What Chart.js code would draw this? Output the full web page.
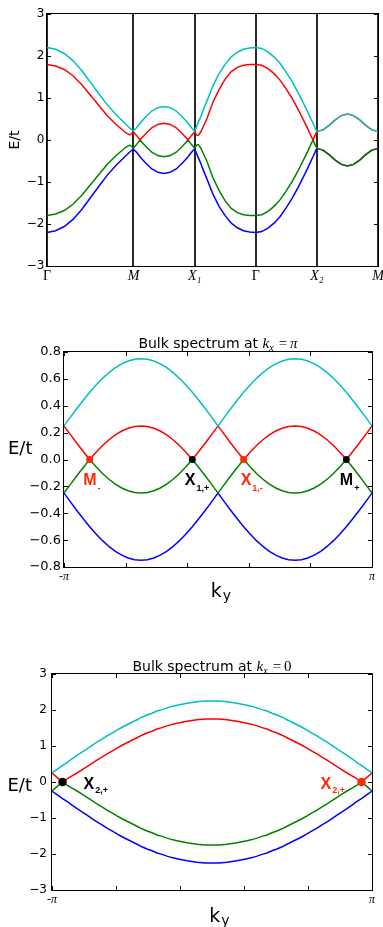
<!DOCTYPE html>
<html>
<head>
<meta charset="utf-8">
<script src="https://cdn.jsdelivr.net/npm/chart.js@4.4.1/dist/chart.umd.min.js"></script>
<style>
  body { margin: 0; background: #fff; width: 383px; height: 927px; position: relative; overflow: hidden; }
  canvas { position: absolute; left: 0; }
</style>
</head>
<body>
<canvas id="c1" width="383" height="300" style="top:0;width:383px;height:300px"></canvas>
<canvas id="c2" width="383" height="320" style="top:300px;width:383px;height:320px"></canvas>
<canvas id="c3" width="383" height="307" style="top:620px;width:383px;height:307px"></canvas>
<script>
// ---------- panel 1: bands along the path G-M-X1-G-X2-M ----------
const pathNodes = [0, 4.443, 7.584, 10.726, 13.868, 17.009];
const pathLabels = ['Γ', 'M', 'X₁', 'Γ', 'X₂', 'M'];
const kPath = [
  0, 0.444, 0.889, 1.333, 1.777, 2.222, 2.666, 3.110, 3.554, 3.777, 3.999, 4.132, 4.265, 4.443,
  4.600, 4.782, 4.914, 5.071, 5.385, 5.700, 6.014, 6.328, 6.642, 6.956, 7.113, 7.245, 7.427, 7.584,
  7.678, 7.773, 7.898, 7.992, 8.212, 8.527, 8.841, 9.155, 9.469, 9.783, 10.097, 10.412, 10.726,
  11.040, 11.354, 11.668, 11.983, 12.297, 12.611, 12.925, 13.239, 13.396, 13.553, 13.670, 13.773, 13.868,
  14.182, 14.496, 14.810, 15.125, 15.439, 15.753, 16.067, 16.381, 16.695, 17.009
];
const cyan1 = [
  2.20, 2.16, 2.06, 1.89, 1.66, 1.38, 1.10, 0.83, 0.60, 0.50, 0.40, 0.34, 0.28, 0.22,
  0.29, 0.40, 0.47, 0.55, 0.69, 0.77, 0.80, 0.77, 0.69, 0.55, 0.47, 0.40, 0.29, 0.21,
  0.31, 0.42, 0.55, 0.67, 0.92, 1.29, 1.58, 1.80, 1.98, 2.09, 2.16, 2.19, 2.20,
  2.18, 2.10, 1.98, 1.82, 1.61, 1.38, 1.11, 0.82, 0.67, 0.51, 0.40, 0.29, 0.20,
  0.24, 0.35, 0.48, 0.58, 0.62, 0.58, 0.48, 0.35, 0.24, 0.20
];
const red1 = [
  1.80, 1.76, 1.68, 1.53, 1.32, 1.07, 0.82, 0.57, 0.37, 0.28, 0.19, 0.15, 0.12, 0.19,
  0.11, 0.00, 0.07, 0.15, 0.29, 0.37, 0.40, 0.37, 0.29, 0.15, 0.07, 0.00, 0.11, 0.19,
  0.12, 0.11, 0.19, 0.28, 0.50, 0.90, 1.20, 1.45, 1.63, 1.73, 1.78, 1.80, 1.80,
  1.78, 1.70, 1.58, 1.42, 1.21, 0.98, 0.71, 0.42, 0.27, 0.11, 0.00, 0.11, 0.20,
  0.24, 0.35, 0.48, 0.58, 0.62, 0.58, 0.48, 0.35, 0.24, 0.20
];
const green1 = [
  -1.80, -1.76, -1.68, -1.53, -1.32, -1.07, -0.82, -0.57, -0.37, -0.28, -0.19, -0.15, -0.12, -0.19,
  -0.11, 0.00, -0.07, -0.15, -0.29, -0.37, -0.40, -0.37, -0.29, -0.15, -0.07, 0.00, -0.11, -0.19,
  -0.12, -0.11, -0.19, -0.28, -0.50, -0.90, -1.20, -1.45, -1.63, -1.73, -1.78, -1.80, -1.80,
  -1.78, -1.70, -1.58, -1.42, -1.21, -0.98, -0.71, -0.42, -0.27, -0.11, 0.00, -0.11, -0.20,
  -0.24, -0.35, -0.48, -0.58, -0.62, -0.58, -0.48, -0.35, -0.24, -0.20
];
const blue1 = [
  -2.20, -2.16, -2.06, -1.89, -1.66, -1.38, -1.10, -0.83, -0.60, -0.50, -0.40, -0.34, -0.28, -0.22,
  -0.29, -0.40, -0.47, -0.55, -0.69, -0.77, -0.80, -0.77, -0.69, -0.55, -0.47, -0.40, -0.29, -0.21,
  -0.31, -0.42, -0.55, -0.67, -0.92, -1.29, -1.58, -1.80, -1.98, -2.09, -2.16, -2.19, -2.20,
  -2.18, -2.10, -1.98, -1.82, -1.61, -1.38, -1.11, -0.82, -0.67, -0.51, -0.40, -0.29, -0.20,
  -0.24, -0.35, -0.48, -0.58, -0.62, -0.58, -0.48, -0.35, -0.24, -0.20
];

// ---------- panel 2: bulk spectrum at kx = pi ----------
const ky2 = [
  -3.1416, -3.0107, -2.8798, -2.7489, -2.6180, -2.4871, -2.3562, -2.2253, -2.0944, -1.9635, -1.8326, -1.7017,
  -1.5708, -1.4399, -1.3090, -1.1781, -1.0472, -0.9163, -0.7854, -0.6545, -0.5236, -0.3927, -0.2618, -0.1309,
  0, 0.1309, 0.2618, 0.3927, 0.5236, 0.6545, 0.7854, 0.9163, 1.0472, 1.1781, 1.3090, 1.4399,
  1.5708, 1.7017, 1.8326, 1.9635, 2.0944, 2.2253, 2.3562, 2.4871, 2.6180, 2.7489, 2.8798, 3.0107, 3.1416
];
const cyan2 = [
  0.250, 0.315, 0.379, 0.441, 0.500, 0.554, 0.604, 0.647, 0.683, 0.712, 0.733, 0.746,
  0.750, 0.746, 0.733, 0.712, 0.683, 0.647, 0.604, 0.554, 0.500, 0.441, 0.379, 0.315,
  0.250, 0.315, 0.379, 0.441, 0.500, 0.554, 0.604, 0.647, 0.683, 0.712, 0.733, 0.746,
  0.750, 0.746, 0.733, 0.712, 0.683, 0.647, 0.604, 0.554, 0.500, 0.441, 0.379, 0.315, 0.250
];
const red2 = [
  0.250, 0.185, 0.121, 0.059, 0.000, 0.054, 0.104, 0.147, 0.183, 0.212, 0.233, 0.246,
  0.250, 0.246, 0.233, 0.212, 0.183, 0.147, 0.104, 0.054, 0.000, 0.059, 0.121, 0.185,
  0.250, 0.185, 0.121, 0.059, 0.000, 0.054, 0.104, 0.147, 0.183, 0.212, 0.233, 0.246,
  0.250, 0.246, 0.233, 0.212, 0.183, 0.147, 0.104, 0.054, 0.000, 0.059, 0.121, 0.185, 0.250
];
const green2 = [
  -0.250, -0.185, -0.121, -0.059, 0.000, -0.054, -0.104, -0.147, -0.183, -0.212, -0.233, -0.246,
  -0.250, -0.246, -0.233, -0.212, -0.183, -0.147, -0.104, -0.054, 0.000, -0.059, -0.121, -0.185,
  -0.250, -0.185, -0.121, -0.059, 0.000, -0.054, -0.104, -0.147, -0.183, -0.212, -0.233, -0.246,
  -0.250, -0.246, -0.233, -0.212, -0.183, -0.147, -0.104, -0.054, 0.000, -0.059, -0.121, -0.185, -0.250
];
const blue2 = [
  -0.250, -0.315, -0.379, -0.441, -0.500, -0.554, -0.604, -0.647, -0.683, -0.712, -0.733, -0.746,
  -0.750, -0.746, -0.733, -0.712, -0.683, -0.647, -0.604, -0.554, -0.500, -0.441, -0.379, -0.315,
  -0.250, -0.315, -0.379, -0.441, -0.500, -0.554, -0.604, -0.647, -0.683, -0.712, -0.733, -0.746,
  -0.750, -0.746, -0.733, -0.712, -0.683, -0.647, -0.604, -0.554, -0.500, -0.441, -0.379, -0.315, -0.250
];
const dots2Ky = [-2.618, -0.524, 0.524, 2.618];
const dots2E = [0, 0, 0, 0];
const dots2Name = ['M', 'X', 'X', 'M'];
const dots2Sub = ['-', '1,+', '1,-', '+'];
const dots2Red = [true, false, true, false];

// ---------- panel 3: bulk spectrum at kx = 0 ----------
const ky3 = [
  -3.1416, -3.0434, -2.935, -2.8471, -2.7489, -2.6507, -2.5525, -2.4544, -2.3562, -2.2580, -2.1598,
  -2.0617, -1.9635, -1.8653, -1.7671, -1.6690, -1.5708, -1.4726, -1.3744, -1.2763, -1.1781, -1.0799,
  -0.9817, -0.8836, -0.7854, -0.6872, -0.5890, -0.4909, -0.3927, -0.2945, -0.1963, -0.0982, 0,
  0.0982, 0.1963, 0.2945, 0.3927, 0.4909, 0.5890, 0.6872, 0.7854, 0.8836, 0.9817, 1.0799,
  1.1781, 1.2763, 1.3744, 1.4726, 1.5708, 1.6690, 1.7671, 1.8653, 1.9635, 2.0617, 2.1598,
  2.2580, 2.3562, 2.4544, 2.5525, 2.6507, 2.7489, 2.8471, 2.935, 3.0434, 3.1416
];
const cyan3 = [
  0.25, 0.35, 0.46, 0.54, 0.64, 0.74, 0.83, 0.92, 1.02, 1.11, 1.19,
  1.28, 1.36, 1.44, 1.52, 1.59, 1.66, 1.73, 1.80, 1.86, 1.91, 1.97,
  2.01, 2.06, 2.10, 2.13, 2.16, 2.19, 2.21, 2.23, 2.24, 2.25, 2.25,
  2.25, 2.24, 2.23, 2.21, 2.19, 2.16, 2.13, 2.10, 2.06, 2.01, 1.97,
  1.91, 1.86, 1.80, 1.73, 1.66, 1.59, 1.52, 1.44, 1.36, 1.28, 1.19,
  1.11, 1.02, 0.92, 0.83, 0.74, 0.64, 0.54, 0.46, 0.35, 0.25
];
const red3 = [
  0.25, 0.13, 0.00, 0.09, 0.17, 0.25, 0.34, 0.43, 0.52, 0.61, 0.69,
  0.78, 0.86, 0.94, 1.02, 1.09, 1.16, 1.23, 1.30, 1.36, 1.41, 1.47,
  1.51, 1.56, 1.60, 1.63, 1.66, 1.69, 1.71, 1.73, 1.74, 1.75, 1.75,
  1.75, 1.74, 1.73, 1.71, 1.69, 1.66, 1.63, 1.60, 1.56, 1.51, 1.47,
  1.41, 1.36, 1.30, 1.23, 1.16, 1.09, 1.02, 0.94, 0.86, 0.78, 0.69,
  0.61, 0.52, 0.43, 0.34, 0.25, 0.17, 0.09, 0.00, 0.13, 0.25
];
const green3 = [
  -0.25, -0.13, 0.00, -0.09, -0.17, -0.25, -0.34, -0.43, -0.52, -0.61, -0.69,
  -0.78, -0.86, -0.94, -1.02, -1.09, -1.16, -1.23, -1.30, -1.36, -1.41, -1.47,
  -1.51, -1.56, -1.60, -1.63, -1.66, -1.69, -1.71, -1.73, -1.74, -1.75, -1.75,
  -1.75, -1.74, -1.73, -1.71, -1.69, -1.66, -1.63, -1.60, -1.56, -1.51, -1.47,
  -1.41, -1.36, -1.30, -1.23, -1.16, -1.09, -1.02, -0.94, -0.86, -0.78, -0.69,
  -0.61, -0.52, -0.43, -0.34, -0.25, -0.17, -0.09, 0.00, -0.13, -0.25
];
const blue3 = [
  -0.25, -0.35, -0.46, -0.54, -0.64, -0.74, -0.83, -0.92, -1.02, -1.11, -1.19,
  -1.28, -1.36, -1.44, -1.52, -1.59, -1.66, -1.73, -1.80, -1.86, -1.91, -1.97,
  -2.01, -2.06, -2.10, -2.13, -2.16, -2.19, -2.21, -2.23, -2.24, -2.25, -2.25,
  -2.25, -2.24, -2.23, -2.21, -2.19, -2.16, -2.13, -2.10, -2.06, -2.01, -1.97,
  -1.91, -1.86, -1.80, -1.73, -1.66, -1.59, -1.52, -1.44, -1.36, -1.28, -1.19,
  -1.11, -1.02, -0.92, -0.83, -0.74, -0.64, -0.54, -0.46, -0.35, -0.25
];
const dots3Ky = [-2.935, 2.935];
const dots3E = [0, 0];
const dots3Name = ['X', 'X'];
const dots3Sub = ['2,+', '2,+'];
const dots3Red = [false, true];

// x ticks of the bulk panels (labels only at the ends)
const bulkTicks = [-3.1416, -1.885, -0.628, 0.628, 1.885, 3.1416];
const bulkTickText = ['-π', '', '', '', '', 'π'];

// ---------- styles ----------
const CYAN = '#00bfbf', RED = '#ff0000', GREEN = '#008000', BLUE = '#0000ff';
const MARK_RED = '#ff2a00';
const TEAL_MIX = '#40a0a0', GREEN_MIX = '#146614';
const SANS = '"DejaVu Sans", sans-serif';
const SERIF = '"Liberation Serif", "DejaVu Serif", serif';
const BOLD = '"Liberation Sans", Arial, sans-serif';

function series(xs, ys) {
  return xs.map((x, i) => ({ x: x, y: ys[i] }));
}

function band(xs, ys, color, mixColor) {
  const ds = {
    data: series(xs, ys), borderColor: color, borderWidth: 1.5,
    pointRadius: 0, tension: 0, fill: false
  };
  if (mixColor) {
    // cyan/red and green/blue lie on top of each other between X2 and M
    ds.segment = { borderColor: c => c.p0.parsed.x >= pathNodes[4] - 1e-6 ? mixColor : undefined };
  }
  return ds;
}

function dots(xs, ys, reds, r) {
  return {
    type: 'scatter', data: series(xs, ys), order: -1,
    pointRadius: r, pointBorderWidth: 0,
    pointBackgroundColor: reds.map(v => v ? MARK_RED : '#000')
  };
}

// fixes the plot box to given pixel edges
function fixedArea(W, H, box) {
  return {
    padding: { left: 0, top: box.top, right: W - box.right, bottom: 0 },
    yFit: s => { s.width = box.left; s.paddingTop = 0; s.paddingBottom = 0; },
    xFit: s => { s.height = H - box.bottom; s.paddingLeft = 0; s.paddingRight = 0; }
  };
}

function fmtTick(v, digits) {
  if (Math.abs(v) < 1e-9) v = 0;
  const s = Math.abs(v).toFixed(digits);
  return v < 0 ? '−' + s : s;
}

function drawParts(ctx, parts, x, y, align) {
  ctx.textBaseline = 'alphabetic';
  ctx.textAlign = 'left';
  let w = 0;
  parts.forEach(p => { ctx.font = p.font; w += (p.gap || 0) + ctx.measureText(p.t).width; });
  let cx = align === 'center' ? x - w / 2 : x;
  parts.forEach(p => {
    cx += p.gap || 0;
    ctx.font = p.font;
    ctx.fillStyle = p.color || '#000';
    ctx.fillText(p.t, cx, y + (p.dy || 0));
    cx += ctx.measureText(p.t).width;
  });
}

// frame round the plot plus inward tick marks
function framePlugin(xTicks) {
  return {
    id: 'frame',
    afterDraw(chart) {
      const { ctx, chartArea: a, scales } = chart;
      const L = 4;
      ctx.save();
      ctx.strokeStyle = '#000';
      ctx.lineWidth = 1;
      ctx.beginPath();
      scales.y.ticks.forEach(t => {
        const p = Math.round(scales.y.getPixelForValue(t.value)) + 0.5;
        ctx.moveTo(a.left, p); ctx.lineTo(a.left + L, p);
        ctx.moveTo(a.right, p); ctx.lineTo(a.right - L, p);
      });
      if (xTicks) {
        scales.x.ticks.forEach(t => {
          const p = Math.round(scales.x.getPixelForValue(t.value)) + 0.5;
          ctx.moveTo(p, a.bottom); ctx.lineTo(p, a.bottom - L);
          ctx.moveTo(p, a.top); ctx.lineTo(p, a.top + L);
        });
      }
      ctx.stroke();
      ctx.strokeRect(a.left - 0.5, a.top - 0.5, a.right - a.left + 1, a.bottom - a.top + 1);
      ctx.restore();
    }
  };
}

function titleParts(last, lastItalic) {
  return [
    { t: 'Bulk spectrum at ', font: '14px ' + SANS },
    { t: 'k', font: 'italic 15px ' + SERIF },
    { t: 'x', font: 'italic 10px ' + SERIF, dy: 3 },
    { t: '=', font: '15px ' + SERIF, gap: 5 },
    { t: last, font: (lastItalic ? 'italic ' : '') + '15px ' + SERIF, gap: 3 }
  ];
}

const baseOptions = {
  responsive: false,
  animation: false,
  events: [],
  plugins: { legend: { display: false }, tooltip: { enabled: false }, title: { display: false } }
};

// ---------- chart 1 ----------
const a1 = fixedArea(383, 300, { left: 47, top: 14, right: 378, bottom: 266 });
new Chart(document.getElementById('c1'), {
  type: 'line',
  data: {
    datasets: [
      band(kPath, cyan1, CYAN, TEAL_MIX),
      band(kPath, red1, RED, TEAL_MIX),
      band(kPath, green1, GREEN, GREEN_MIX),
      band(kPath, blue1, BLUE, GREEN_MIX)
    ]
  },
  options: Object.assign({}, baseOptions, {
    layout: { padding: a1.padding },
    scales: {
      x: {
        type: 'linear', min: pathNodes[0], max: pathNodes[5], z: 1,
        afterFit: a1.xFit,
        afterBuildTicks: s => { s.ticks = pathNodes.map(v => ({ value: v })); },
        grid: { display: true, color: '#2a2a2a', lineWidth: 2, drawTicks: false, tickLength: 0 },
        border: { display: false },
        ticks: {
          autoSkip: false, maxRotation: 0, minRotation: 0, padding: 2, color: '#000',
          font: c => ({ family: SERIF, size: 14, style: pathLabels[c.index] === 'Γ' ? 'normal' : 'italic' }),
          callback: (v, i) => pathLabels[i]
        }
      },
      y: {
        min: -3, max: 3, afterFit: a1.yFit,
        grid: { display: false, drawTicks: false, tickLength: 0 },
        border: { display: false },
        ticks: { stepSize: 1, padding: 2.5, color: '#000', font: { family: SANS, size: 12 }, callback: v => fmtTick(v, 0) }
      }
    }
  }),
  plugins: [framePlugin(false), {
    id: 'text1',
    afterDraw(chart) {
      const { ctx, chartArea: a } = chart;
      ctx.save();
      ctx.translate(15, (a.top + a.bottom) / 2);
      ctx.rotate(-Math.PI / 2);
      ctx.font = '14px ' + SANS;
      ctx.fillStyle = '#000';
      ctx.textAlign = 'center';
      ctx.textBaseline = 'middle';
      ctx.fillText('E/t', 0, 0);
      ctx.restore();
    }
  }]
});

// ---------- bulk panels ----------
function bulkChart(id, H, box, bands, yOpts, marks, text) {
  const a = fixedArea(383, H, box);
  new Chart(document.getElementById(id), {
    type: 'line',
    data: {
      datasets: [marks.dataset].concat([
        band(bands.ky, bands.c, CYAN), band(bands.ky, bands.r, RED),
        band(bands.ky, bands.g, GREEN), band(bands.ky, bands.b, BLUE)
      ])
    },
    options: Object.assign({}, baseOptions, {
      layout: { padding: a.padding },
      scales: {
        x: {
          type: 'linear', min: bulkTicks[0], max: bulkTicks[5],
          afterFit: a.xFit,
          afterBuildTicks: s => { s.ticks = bulkTicks.map(v => ({ value: v })); },
          grid: { display: false, drawTicks: false, tickLength: 0 },
          border: { display: false },
          ticks: {
            autoSkip: false, maxRotation: 0, minRotation: 0, padding: 3, color: '#000',
            font: { family: SERIF, size: 12, style: 'italic' },
            callback: (v, i) => bulkTickText[i]
          }
        },
        y: Object.assign({
          afterFit: a.yFit,
          grid: { display: false, drawTicks: false, tickLength: 0 },
          border: { display: false }
        }, yOpts)
      }
    }),
    plugins: [framePlugin(true), {
      id: 'text_' + id,
      afterDraw(chart) {
        const { ctx, chartArea: ca, scales } = chart;
        ctx.save();
        drawParts(ctx, titleParts(text.last, text.lastItalic), (ca.left + ca.right) / 2, ca.top + text.titleDy, 'center');
        drawParts(ctx, [{ t: 'E/t', font: '18px ' + SANS }], text.eX, ca.top + text.eDy, 'left');
        drawParts(ctx, [
          { t: 'k', font: '19px ' + SANS },
          { t: 'y', font: '14px ' + SANS, dy: 3, gap: 1 }
        ], text.kX, ca.bottom + text.kDy, 'left');
        marks.name.forEach((n, i) => {
          const px = scales.x.getPixelForValue(marks.ky[i]);
          const py = scales.y.getPixelForValue(marks.e[i]);
          const col = marks.red[i] ? MARK_RED : '#000';
          drawParts(ctx, [
            { t: n, font: 'bold 16px ' + BOLD, color: col },
            { t: marks.sub[i], font: 'bold 9px ' + BOLD, color: col, dy: marks.subDy, gap: 1 }
          ], px + marks.dx[i], py + marks.dy, 'left');
        });
        ctx.restore();
      }
    }]
  });
}

bulkChart('c2', 320, { left: 64, top: 52, right: 372, bottom: 267 },
  { ky: ky2, c: cyan2, r: red2, g: green2, b: blue2 },
  { min: -0.8, max: 0.8, ticks: { stepSize: 0.2, padding: 3, color: '#000', font: { family: SANS, size: 13 }, callback: v => fmtTick(v, 1) } },
  { dataset: dots(dots2Ky, dots2E, dots2Red, 3.5), ky: dots2Ky, e: dots2E, name: dots2Name, sub: dots2Sub, red: dots2Red,
    dx: [-6.5, -7.5, -3, -6.5], dy: 25.5, subDy: 6 },
  { last: 'π', lastItalic: true, titleDy: -4, eX: 8, eDy: 102, kX: 210.7, kDy: 30 });

bulkChart('c3', 307, { left: 52, top: 54, right: 372, bottom: 270 },
  { ky: ky3, c: cyan3, r: red3, g: green3, b: blue3 },
  { min: -3, max: 3, ticks: { stepSize: 1, padding: 5, color: '#000', font: { family: SANS, size: 12 }, callback: v => fmtTick(v, 0) } },
  { dataset: dots(dots3Ky, dots3E, dots3Red, 4.3), ky: dots3Ky, e: dots3E, name: dots3Name, sub: dots3Sub, red: dots3Red,
    dx: [21, -41], dy: 7, subDy: 4 },
  { last: '0', lastItalic: false, titleDy: -3.5, eX: 7.5, eDy: 117, kX: 209.3, kDy: 31.5 });
</script>
</body>
</html>
